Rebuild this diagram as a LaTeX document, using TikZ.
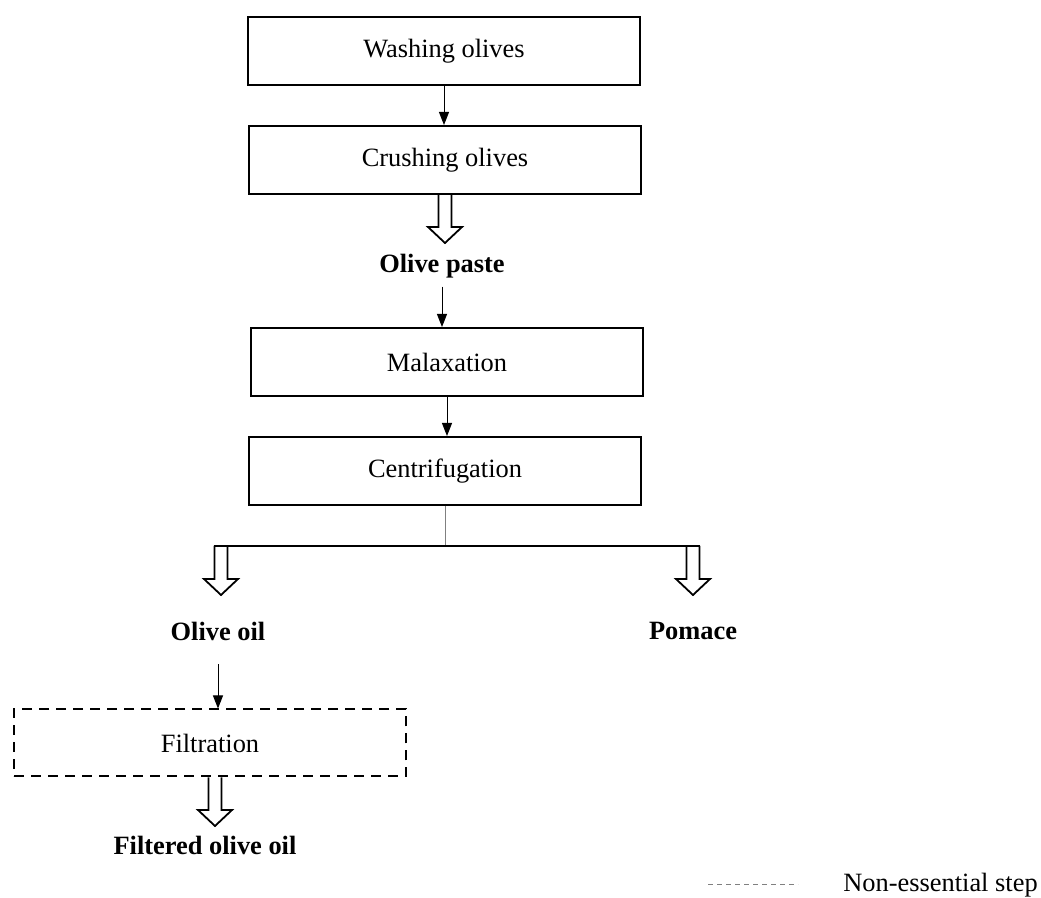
\documentclass[tikz,border=0pt]{standalone}
\usepackage{fontspec}
\setmainfont{Liberation Serif}
\usetikzlibrary{arrows.meta,calc}
\tikzstyle{stepbox}=[rectangle,draw=black,line width=1pt,
                     minimum width=196pt,minimum height=34pt,inner sep=0pt]
\tikzstyle{optbox}=[stepbox,dash pattern=on 5pt off 3.5pt]
\tikzstyle{product}=[font=\fontsize{13.2}{16}\selectfont\bfseries,
                     inner sep=0pt,anchor=north]
\tikzstyle{flow}=[line width=0.5pt,-{Triangle[length=6.5pt,width=5pt]}]
\tikzstyle{hollow}=[draw=black,line width=0.9pt,line join=miter,
  to path={let \p1=(\tikztostart), \p2=(\tikztotarget) in
    (\x1-3.25pt,\y1) -- (\x1-3.25pt,\y2+8pt) -- (\x1-8.5pt,\y2+8pt) -- (\x1,\y2)
    -- (\x1+8.5pt,\y2+8pt) -- (\x1+3.25pt,\y2+8pt) -- (\x1+3.25pt,\y1)}]

\begin{document}
\begin{tikzpicture}[x=0.5pt,y=-0.5pt,font=\fontsize{13.2}{16}\selectfont]
    \useasboundingbox (0,0) rectangle (1041,898);
    % main line
    \node (wash)   at (444,51)  [stepbox]{Washing olives};
    \node (crush)  at (445,160) [stepbox]{Crushing olives};
    \node (paste)  at (442,254) [product]{Olive paste};
    \node (malax)  at (447,362) [stepbox]{Malaxation};
    \node (centri) at (445,471) [stepbox]{Centrifugation};
    \coordinate (split) at (445,546);
    \coordinate (left)  at (221,546);
    \coordinate (right) at (693,546);
    \node (oil)    at (218,622) [product]{Olive oil};
    \node (pomace) at (693,622) [product]{Pomace};
    \node (filtr)  at (210,743) [optbox,minimum height=33.5pt]{Filtration};
    \node (filtered) at (205,836) [product]{Filtered olive oil};
    % legend
    \coordinate (keyA) at (708,885);
    \coordinate (keyB) at (798,885);
    \node (key) at (843,885) [anchor=west,inner sep=0pt]{Non-essential step};

    \draw[flow] (wash.south) -- (wash.south |- crush.north);
    \draw[hollow] (crush.south) to ([yshift=5.5pt]paste.north);
    \draw[flow] ([yshift=-4pt]paste.south) -- (paste.south |- malax.north);
    \draw[flow] (malax.south) -- (malax.south |- centri.north);
    \draw[gray,line width=0.5pt] (centri.south) -- (split);
    \draw[line width=1pt] ([xshift=-3.7pt]left) -- ([xshift=3.7pt]right);
    \draw[hollow] (left) to ([yshift=13.5pt]oil.north);
    \draw[hollow] (right) to ([yshift=13.5pt]pomace.north);
    \draw[flow] ([yshift=-11.5pt]oil.south) -- (oil.south |- filtr.north);
    \draw[hollow] ([xshift=2.5pt]filtr.south) to ([yshift=5pt]filtered.north);
    \draw[gray,line width=0.5pt,dash pattern=on 2.5pt off 2pt] (keyA) -- (keyB);
  \end{tikzpicture}
\end{document}
